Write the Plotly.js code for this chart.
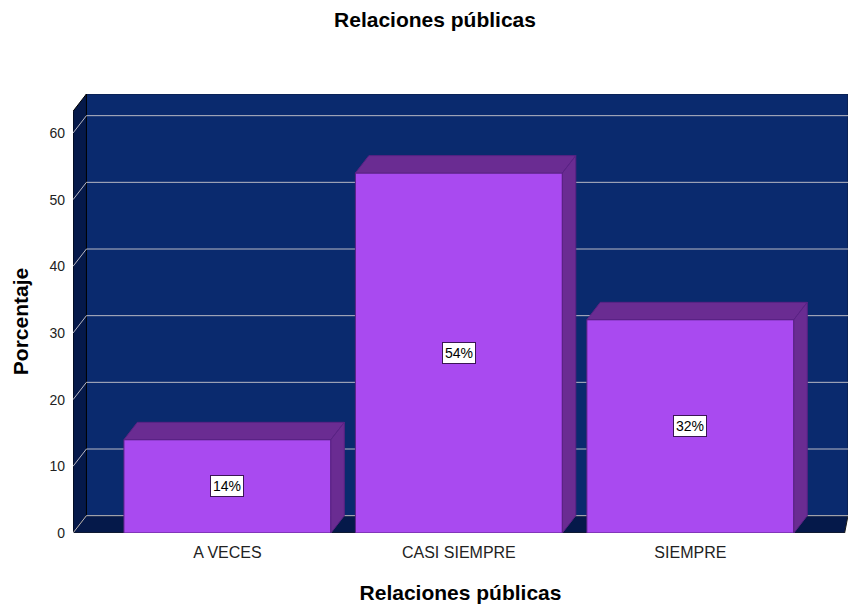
<!DOCTYPE html>
<html>
<head>
<meta charset="utf-8">
<script src="https://cdn.plot.ly/plotly-3.0.1.min.js"></script>
<style>html,body{margin:0;padding:0;background:#fff;}#chart{width:848px;height:606px;}</style>
</head>
<body>
<div id="chart"></div>
<script>
// ---- data ----
const categories = ['A VECES', 'CASI SIEMPRE', 'SIEMPRE'];
const percentages = [14, 54, 32];
const yTickValues = [0, 10, 20, 30, 40, 50, 60];
const chartTitle = 'Relaciones públicas';
const xTitle = 'Relaciones públicas';
const yTitle = 'Porcentaje';

// ---- styling / geometry ----
const X_RANGE = [-0.667, 2.681];
const Y_RANGE = [0, 65.85];
const DX = 0.058;   // depth offset (x units)
const DY = 2.6;     // depth offset (y units)
const BAR_W = 0.894;
const WALL = '#0a2a6e';
const WALL_DARK = '#05194a';
const GRID = '#b9b9c4';
const BAR_FRONT = '#a94af0';
const BAR_DARK = '#6a2c92';
const BAR_EDGE = '#5a2284';
const FONT = 'Liberation Sans, Arial, sans-serif';

const xs = categories.map((c, i) => i);
const traces = [];

traces.push({
  type: 'bar', x: xs, y: percentages, width: BAR_W,
  marker: {color: BAR_FRONT, line: {color: BAR_EDGE, width: 1}},
  hoverinfo: 'skip', showlegend: false
});

percentages.forEach((v, i) => {
  const l = i - BAR_W / 2, r = i + BAR_W / 2;
  traces.push({
    type: 'scatter', mode: 'lines', fill: 'toself', fillcolor: BAR_DARK,
    x: [l, l + DX, r + DX, r, l], y: [v, v + DY, v + DY, v, v],
    line: {color: BAR_EDGE, width: 1}, hoverinfo: 'skip', showlegend: false
  });
  traces.push({
    type: 'scatter', mode: 'lines', fill: 'toself', fillcolor: BAR_DARK,
    x: [r, r + DX, r + DX, r, r], y: [0, DY, v + DY, v, 0],
    line: {color: BAR_EDGE, width: 1}, hoverinfo: 'skip', showlegend: false
  });
});

const xL = X_RANGE[0], xR = X_RANGE[1], yT = Y_RANGE[1];
const shapes = [];
// back wall
shapes.push({type: 'path', layer: 'below', xref: 'x', yref: 'y',
  path: `M${xL + DX},${DY} L${xR},${DY} L${xR},${yT} L${xL + DX},${yT} Z`,
  fillcolor: WALL, line: {color: '#0a1a40', width: 1}});
// left wall
shapes.push({type: 'path', layer: 'below', xref: 'x', yref: 'y',
  path: `M${xL},0 L${xL + DX},${DY} L${xL + DX},${yT} L${xL},${yT - DY} Z`,
  fillcolor: WALL_DARK, line: {color: '#000000', width: 1}});
// floor
shapes.push({type: 'path', layer: 'below', xref: 'x', yref: 'y',
  path: `M${xL},0 L${xR - DX * 0.25},0 L${xR},${DY} L${xL + DX},${DY} Z`,
  fillcolor: WALL_DARK, line: {color: '#1a1a1a', width: 1}});
// gridlines on walls
yTickValues.forEach(v => {
  shapes.push({type: 'path', layer: 'below', xref: 'x', yref: 'y',
    path: `M${xL},${v} L${xL + DX},${v + DY} L${xR},${v + DY}`,
    line: {color: GRID, width: 1}});
});

const annotations = percentages.map((v, i) => ({
  x: i, y: v / 2, xref: 'x', yref: 'y', text: Math.round(v) + '%',
  showarrow: false, font: {family: FONT, size: 14, color: '#000'},
  bgcolor: '#ffffff', bordercolor: '#3b1556', borderwidth: 1, borderpad: 2
}));
// y-axis title, centred on the front axis height
annotations.push({
  text: yTitle, textangle: -90, xref: 'paper', x: 0, xshift: -53, xanchor: 'center',
  yref: 'y', y: (yT - DY) / 2, yanchor: 'middle', showarrow: false,
  font: {family: FONT, size: 21, weight: 'bold', color: '#000'}
});

const layout = {
  width: 848, height: 606,
  margin: {l: 73, r: 0, t: 94, b: 73},
  paper_bgcolor: '#ffffff', plot_bgcolor: '#ffffff',
  font: {family: FONT, color: '#000'},
  title: {text: chartTitle, font: {family: FONT, size: 21, weight: 'bold', color: '#000'},
    xref: 'container', x: 435 / 848, xanchor: 'center', yref: 'container', y: 1 - 20 / 606, yanchor: 'middle'},
  xaxis: {range: X_RANGE, tickvals: xs, ticktext: categories, showgrid: false, zeroline: false,
    showline: false, ticks: '', ticklabelstandoff: 8, tickfont: {family: FONT, size: 16, color: '#222'},
    title: {text: xTitle, font: {family: FONT, size: 21, weight: 'bold', color: '#000'}, standoff: 25},
    fixedrange: true},
  yaxis: {range: Y_RANGE, tickvals: yTickValues, showgrid: false, zeroline: false, showline: false,
    ticks: '', ticklabelstandoff: 7, tickfont: {family: FONT, size: 14, color: '#222'},
    fixedrange: true},
  shapes: shapes,
  annotations: annotations,
  showlegend: false
};

Plotly.newPlot('chart', traces, layout, {displayModeBar: false, staticPlot: true});
</script>
</body>
</html>
